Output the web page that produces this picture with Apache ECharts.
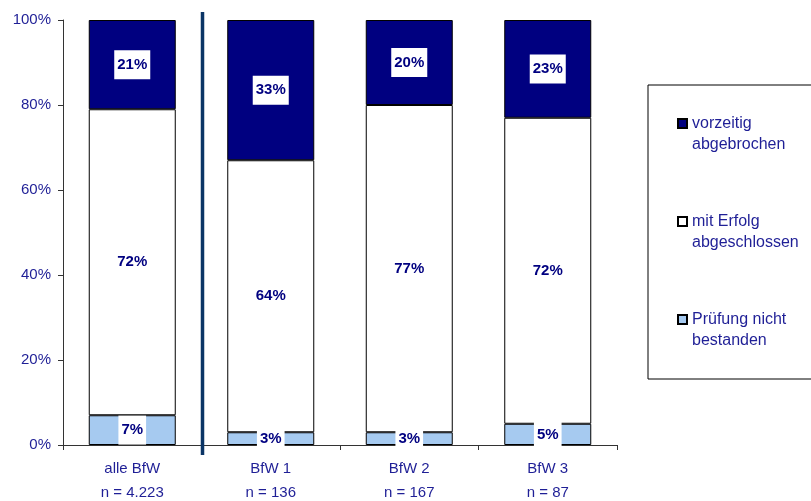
<!DOCTYPE html>
<html>
<head>
<meta charset="utf-8">
<script src="https://cdn.jsdelivr.net/npm/echarts@6/dist/echarts.min.js"></script>
<style>
  html, body { margin: 0; padding: 0; background: #fff; }
  #chart { width: 811px; height: 501px; }
</style>
</head>
<body>
<div id="chart"></div>
<script>
// Categories (facility) and sample sizes
const categories = ['alle BfW', 'BfW 1', 'BfW 2', 'BfW 3'];
const sampleSizes = ['n = 4.223', 'n = 136', 'n = 167', 'n = 87'];

// Shares in percent, bottom to top of each stacked bar
const nichtBestanden = [7, 3, 3, 5];
const mitErfolg = [72, 64, 77, 72];
const vorzeitig = [21, 33, 20, 23];

const seriesNames = ['Prüfung nicht\nbestanden', 'mit Erfolg\nabgeschlossen', 'vorzeitig\nabgebrochen'];
const yTicks = { min: 0, max: 100, interval: 20 };

const navyText = '#1f1f96';
const fills = ['#a6caf0', '#ffffff', '#000080'];
const fontFamily = 'Arial, "Liberation Sans", sans-serif';

const chart = echarts.init(document.getElementById('chart'), null, { renderer: 'canvas' });

const labelStyle = {
  show: true,
  position: 'inside',
  formatter: '{c}%',
  color: '#000080',
  fontFamily: fontFamily,
  fontWeight: 'bold',
  fontSize: 15,
  backgroundColor: '#ffffff',
  padding: [7, 3]
};

function makeSeries(name, data, color) {
  return {
    name: name,
    type: 'bar',
    stack: 'total',
    barWidth: 87,
    data: data,
    itemStyle: { color: color, borderColor: '#000000', borderWidth: 1 },
    label: labelStyle,
    emphasis: { disabled: true }
  };
}

const option = {
  animation: false,
  backgroundColor: '#ffffff',
  textStyle: { fontFamily: fontFamily },
  grid: { left: 63, right: 194, top: 20, bottom: 56, outerBoundsMode: 'none', containLabel: false },
  legend: {
    orient: 'vertical',
    left: 648,
    top: 85,
    padding: [7, 60, 28, 29],
    borderColor: '#000000',
    borderWidth: 1,
    itemWidth: 9,
    itemHeight: 9,
    itemGap: 35,
    icon: 'rect',
    selectedMode: false,
    data: [seriesNames[2], seriesNames[1], seriesNames[0]],
    // a blank leading line keeps the marker level with the first text line
    formatter: function (name) { return ' \n' + name; },
    textStyle: {
      color: navyText,
      fontSize: 16,
      lineHeight: 21
    }
  },
  xAxis: {
    type: 'category',
    data: categories,
    axisLine: { lineStyle: { color: '#333333', width: 1 } },
    axisTick: { show: true, length: 5, lineStyle: { color: '#333333' } },
    axisLabel: {
      color: navyText,
      fontSize: 15,
      lineHeight: 24,
      margin: 12,
      formatter: function (value, idx) { return value + '\n' + sampleSizes[idx]; }
    }
  },
  yAxis: {
    type: 'value',
    min: yTicks.min,
    max: yTicks.max,
    interval: yTicks.interval,
    splitLine: { show: false },
    axisLine: { show: true, lineStyle: { color: '#333333', width: 1 } },
    axisTick: { show: true, length: 5, lineStyle: { color: '#333333' } },
    axisLabel: { color: navyText, fontSize: 15, margin: 12, formatter: '{value}%' }
  },
  series: [
    makeSeries(seriesNames[0], nichtBestanden, fills[0]),
    makeSeries(seriesNames[1], mitErfolg, fills[1]),
    makeSeries(seriesNames[2], vorzeitig, fills[2])
  ]
};

chart.setOption(option);

// Divider between the overall column and the individual facilities,
// placed halfway between the first two category centres.
const x0 = chart.convertToPixel({ xAxisIndex: 0 }, 0);
const x1 = chart.convertToPixel({ xAxisIndex: 0 }, 1);
const yTop = chart.convertToPixel({ yAxisIndex: 0 }, 100);
const yBottom = chart.convertToPixel({ yAxisIndex: 0 }, 0);
const xDiv = (x0 + x1) / 2 + 1;
chart.setOption({
  graphic: [{
    type: 'line',
    shape: { x1: xDiv, y1: yTop - 8, x2: xDiv, y2: yBottom + 10 },
    style: { stroke: '#0b3566', lineWidth: 3.5 },
    z: 100
  }]
});
</script>
</body>
</html>
